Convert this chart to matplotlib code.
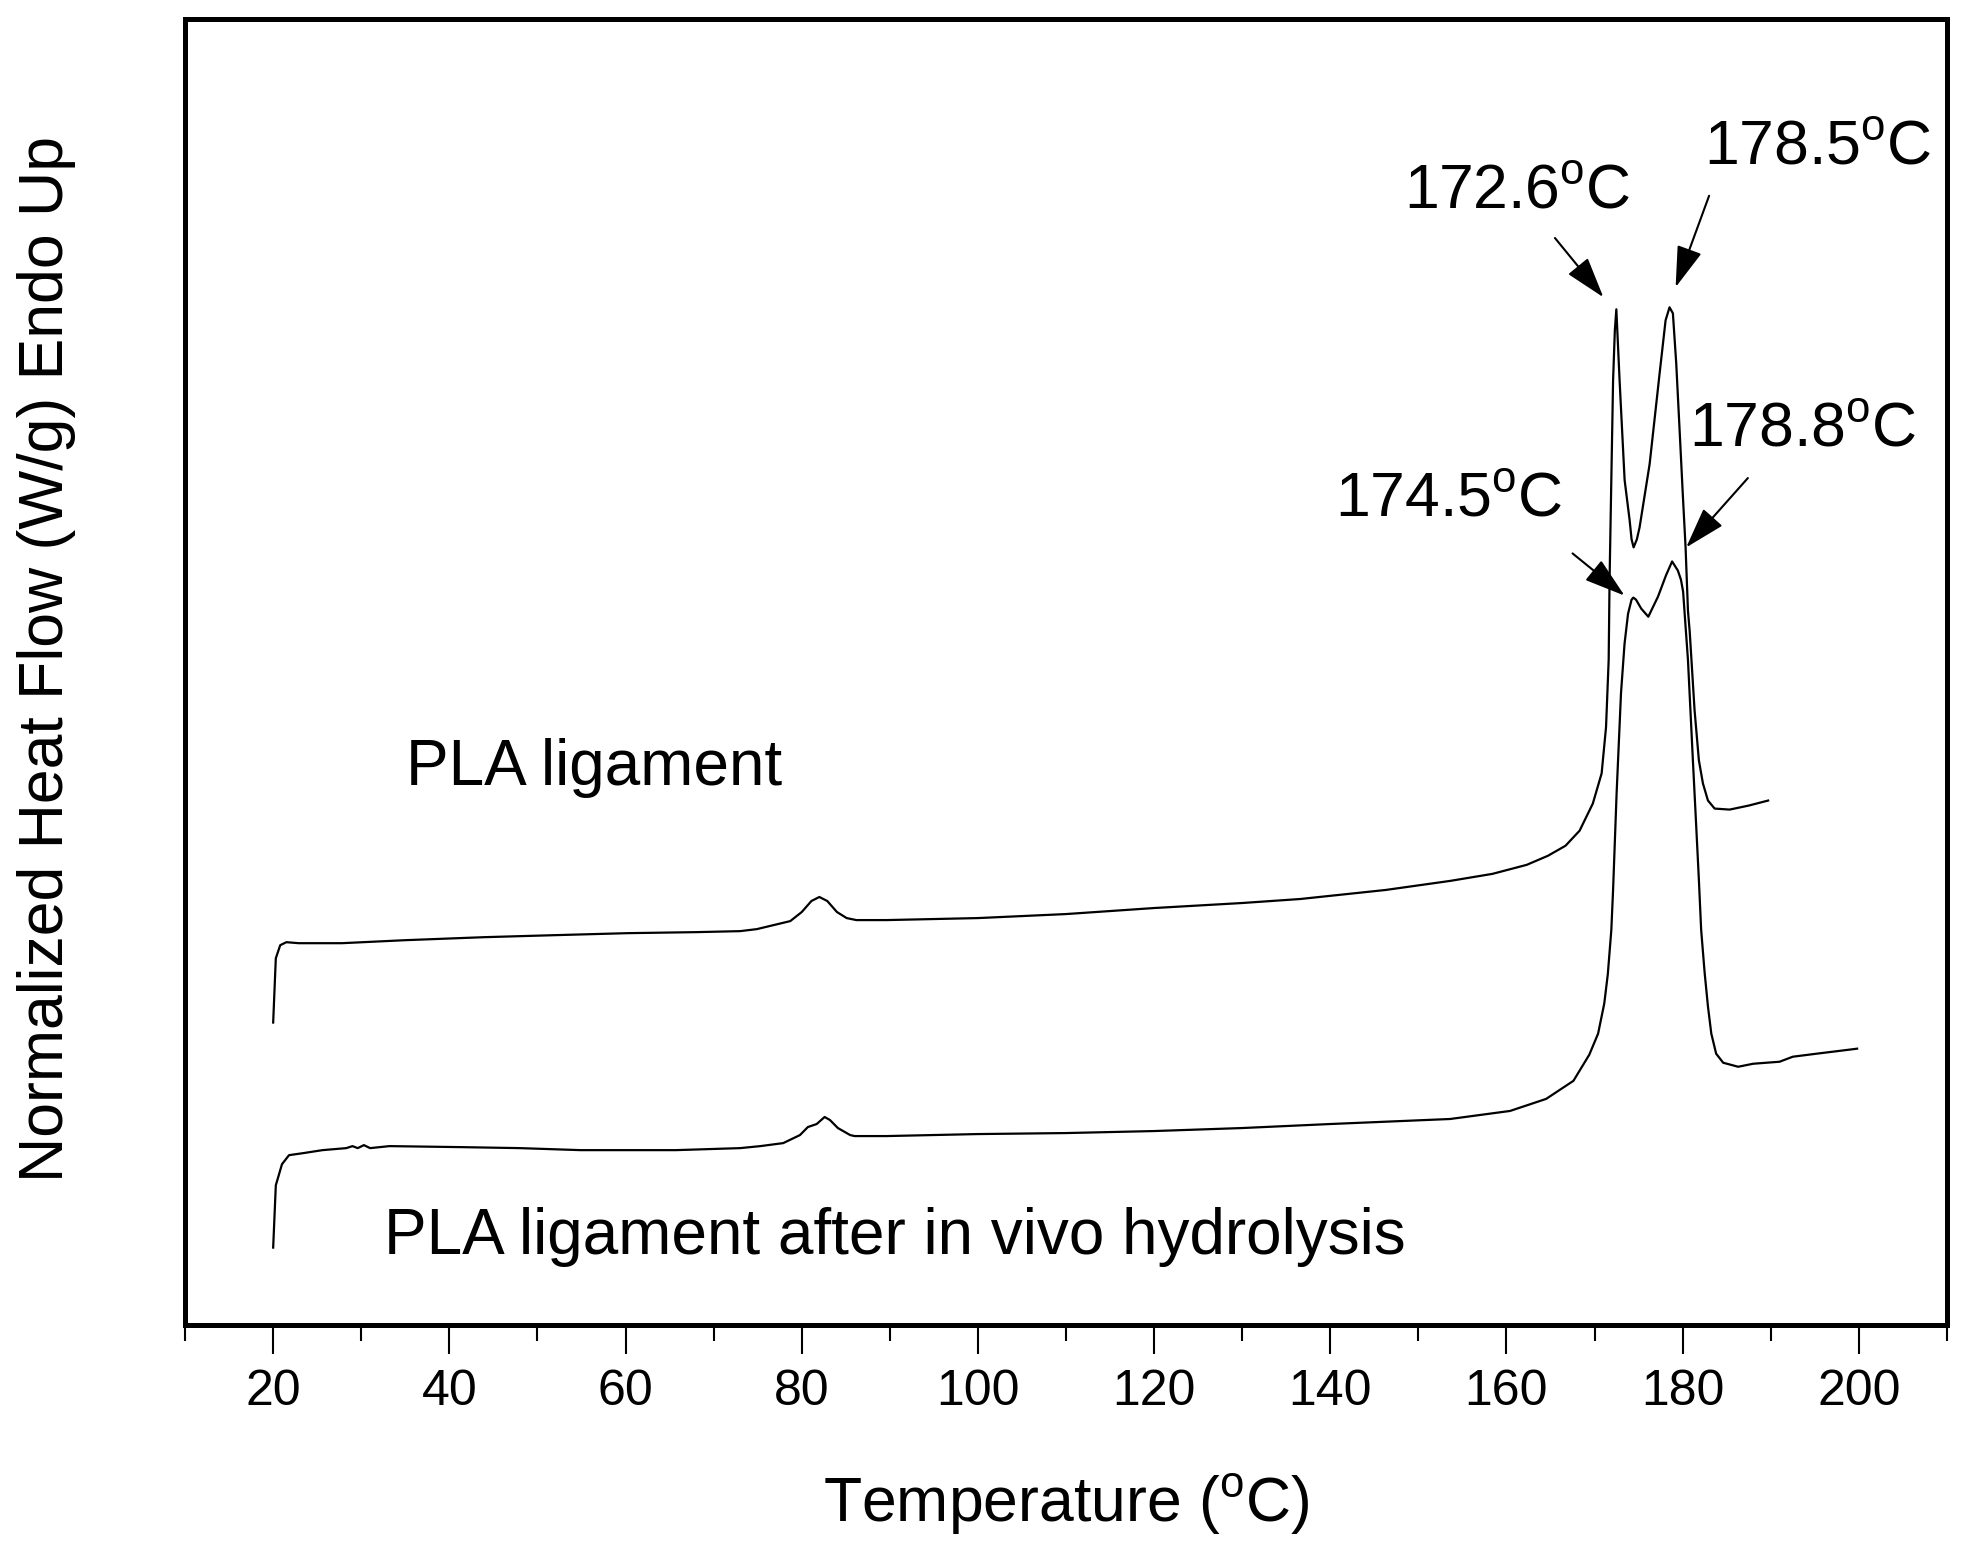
import matplotlib
matplotlib.use("Agg")
import matplotlib.pyplot as plt

plt.rcParams['font.family'] = ['Liberation Sans', 'DejaVu Sans']
plt.rcParams['mathtext.fontset'] = 'custom'
plt.rcParams['mathtext.rm'] = 'Liberation Sans'
plt.rcParams['mathtext.it'] = 'Liberation Sans:italic'

# DSC trace of the PLA ligament (upper curve)
temp_pla = [20.0, 20.3, 20.8, 21.5, 22.9, 27.8, 35.0, 44.0, 52.0, 60.3, 68.0,
            73.0, 74.9, 76.8, 78.7, 80.0, 81.1, 82.0, 82.9, 84.0, 85.1, 86.2,
            89.6, 100.0, 110.0, 120.0, 130.0, 136.6, 146.3, 153.6, 158.4,
            162.3, 164.7, 166.7, 168.3, 169.8, 170.8, 171.3, 171.6, 171.7,
            171.9, 172.1, 172.3, 172.47, 172.84, 173.41, 173.98, 174.2, 174.43,
            174.8, 175.11, 176.25, 177.38, 178.06, 178.51, 178.89, 179.27,
            179.65, 180.03, 180.33, 180.6, 180.8, 181.35, 181.84, 182.3,
            182.87, 183.63, 185.33, 187.5, 189.7]
flow_pla = [3.01, 3.65, 3.78, 3.81, 3.80, 3.80, 3.83, 3.86, 3.88, 3.90, 3.91,
            3.92, 3.94, 3.98, 4.02, 4.11, 4.22, 4.26, 4.22, 4.11, 4.05, 4.03,
            4.03, 4.05, 4.09, 4.15, 4.20, 4.24, 4.33, 4.42, 4.49,
            4.58, 4.67, 4.77, 4.92, 5.19, 5.49, 5.95, 6.62, 7.41,
            8.41, 9.40, 9.90, 10.11, 9.40, 8.41, 8.01, 7.82, 7.74,
            7.82, 7.94, 8.57, 9.47, 10.00, 10.13, 10.07, 9.57,
            8.91, 8.24, 7.74, 7.11, 6.90, 6.12, 5.62, 5.39,
            5.22, 5.14, 5.13, 5.17, 5.22]

# DSC trace after in vivo hydrolysis (lower curve)
temp_hyd = [20.0, 20.3, 21.0, 21.8, 23.4, 25.6, 28.3, 29.0, 29.6, 30.3, 31.0,
            33.2, 41.3, 48.0, 54.9, 65.7, 73.0, 75.3, 77.9, 79.8, 80.7, 81.7,
            82.6, 83.2, 84.1, 85.5, 86.0, 89.6, 100.0, 110.0, 120.0, 130.0,
            140.0, 153.6, 160.4, 164.5, 167.6, 169.4, 170.4, 171.1, 171.5,
            171.9, 172.1, 172.5, 173.0, 173.4, 173.8, 174.2, 174.4, 174.7,
            175.3, 176.1, 177.2, 178.1, 178.8, 179.45, 179.8, 180.05, 180.25,
            180.6, 181.16, 181.54, 181.84, 182.1, 182.5, 182.87, 183.25, 183.8,
            184.6, 186.3, 188.0, 191.0, 192.5, 195.2, 198.9, 199.8]
flow_hyd = [0.77, 1.39, 1.60, 1.69, 1.71, 1.74, 1.76, 1.78, 1.76, 1.79, 1.76,
            1.78, 1.77, 1.76, 1.74, 1.74, 1.76, 1.78, 1.81, 1.89, 1.97, 2.00,
            2.07, 2.04, 1.96, 1.89, 1.88, 1.88, 1.90, 1.91, 1.93, 1.96,
            2.00, 2.05, 2.13, 2.25, 2.43, 2.69, 2.90, 3.20, 3.49,
            3.93, 4.33, 5.29, 6.29, 6.78, 7.08, 7.22, 7.24, 7.22,
            7.13, 7.05, 7.25, 7.46, 7.60, 7.51, 7.42, 7.30, 7.05,
            6.62, 5.62, 4.96, 4.43, 3.93, 3.50, 3.17, 2.90, 2.70,
            2.61, 2.57, 2.60, 2.62, 2.67, 2.70, 2.74, 2.75]

# peak labels: text, text position, arrow tail, arrow head
peak_labels = [r'172.6$^{\mathrm{o}}$C', r'178.5$^{\mathrm{o}}$C',
               r'178.8$^{\mathrm{o}}$C', r'174.5$^{\mathrm{o}}$C']
label_pos = [(148.4, 11.12), (182.4, 11.55), (180.7, 8.75), (140.5, 8.05)]
arrow_tail = [(165.5, 10.82), (183.0, 11.24), (187.4, 8.43), (167.5, 7.68)]
arrow_head = [(171.0, 10.23), (179.2, 10.33), (180.4, 7.74), (173.4, 7.26)]

fig = plt.figure(figsize=(19.71, 15.56), dpi=100)
ax = fig.add_axes([0.0939, 0.1485, 0.8939, 0.8393])

ax.plot(temp_pla, flow_pla, color='black', lw=1.6)
ax.plot(temp_hyd, flow_hyd, color='black', lw=1.6)

ax.text(35.1, 5.37, 'PLA ligament', fontsize=46)
ax.text(32.6, 0.71, 'PLA ligament after in vivo hydrolysis', fontsize=46)

for lab, pos, tail, head in zip(peak_labels, label_pos, arrow_tail, arrow_head):
    ax.text(pos[0], pos[1], lab, fontsize=45)
    ax.annotate('', xy=head, xytext=tail,
                arrowprops=dict(arrowstyle='-|>,head_length=0.8,head_width=0.25',
                                mutation_scale=32, color='black', lw=1.5,
                                shrinkA=0, shrinkB=0))

ax.set_xlim(10, 210)
ax.set_ylim(0, 13.0)
ax.set_xticks(range(20, 201, 20))
ax.set_xticks(range(10, 211, 20), minor=True)
ax.set_yticks([])
ax.tick_params(axis='x', which='major', direction='out', length=21, width=1.5,
               labelsize=36, pad=11)
ax.tick_params(axis='x', which='minor', direction='out', length=11.5, width=1.5)
for sp in ax.spines.values():
    sp.set_linewidth(3.6)

ax.set_xlabel(r'Temperature ($^{\mathrm{o}}$C)', fontsize=45)
ax.xaxis.set_label_coords(0.5, -0.113)
ax.set_ylabel('Normalized Heat Flow (W/g) Endo Up', fontsize=45)
ax.yaxis.set_label_coords(-0.062, 0.51)

fig.savefig('out.png', dpi=100)
